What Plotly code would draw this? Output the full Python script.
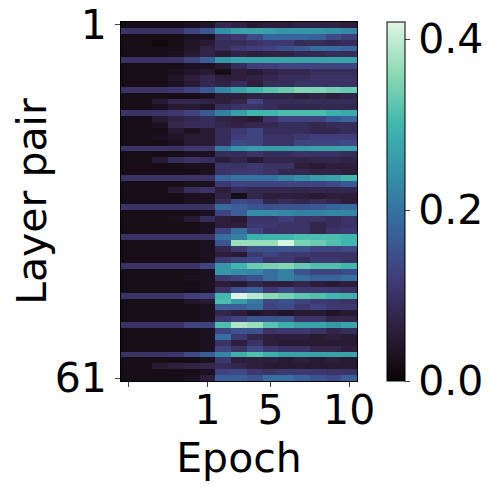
import plotly.graph_objects as go

# columns: 5 checkpoints before epoch 1, then epochs 1..10
col_index = list(range(15))
tick_pos = [0, 5, 9, 14]
tick_text = ["", "1", "5", "10"]
layer_pairs = list(range(1, 62))

values = [
    [0.02, 0.02, 0.02, 0.02, 0.03, 0.04, 0.08, 0.07, 0.05, 0.06, 0.06, 0.07, 0.07, 0.07, 0.06],
    [0.10, 0.10, 0.10, 0.10, 0.13, 0.16, 0.24, 0.27, 0.27, 0.26, 0.25, 0.25, 0.25, 0.24, 0.23],
    [0.02, 0.02, 0.02, 0.02, 0.03, 0.03, 0.10, 0.11, 0.14, 0.18, 0.18, 0.18, 0.17, 0.14, 0.12],
    [0.02, 0.02, 0.01, 0.02, 0.04, 0.05, 0.09, 0.09, 0.10, 0.11, 0.11, 0.09, 0.09, 0.08, 0.09],
    [0.02, 0.02, 0.02, 0.02, 0.04, 0.07, 0.09, 0.11, 0.12, 0.13, 0.15, 0.16, 0.19, 0.19, 0.18],
    [0.02, 0.02, 0.02, 0.03, 0.05, 0.07, 0.05, 0.07, 0.06, 0.07, 0.07, 0.08, 0.08, 0.09, 0.09],
    [0.10, 0.10, 0.10, 0.10, 0.13, 0.17, 0.25, 0.27, 0.27, 0.27, 0.27, 0.27, 0.27, 0.27, 0.27],
    [0.02, 0.02, 0.02, 0.02, 0.03, 0.03, 0.05, 0.09, 0.12, 0.12, 0.13, 0.13, 0.13, 0.13, 0.13],
    [0.02, 0.02, 0.02, 0.03, 0.04, 0.05, 0.02, 0.06, 0.05, 0.07, 0.08, 0.08, 0.09, 0.09, 0.09],
    [0.02, 0.02, 0.02, 0.04, 0.06, 0.08, 0.06, 0.06, 0.07, 0.08, 0.09, 0.09, 0.10, 0.10, 0.10],
    [0.02, 0.02, 0.02, 0.03, 0.05, 0.08, 0.07, 0.09, 0.06, 0.09, 0.09, 0.10, 0.10, 0.10, 0.10],
    [0.10, 0.10, 0.10, 0.11, 0.13, 0.16, 0.23, 0.27, 0.30, 0.32, 0.33, 0.35, 0.35, 0.34, 0.33],
    [0.02, 0.02, 0.02, 0.02, 0.02, 0.03, 0.06, 0.06, 0.07, 0.07, 0.07, 0.06, 0.07, 0.06, 0.07],
    [0.02, 0.02, 0.05, 0.08, 0.08, 0.07, 0.06, 0.075, 0.13, 0.09, 0.09, 0.09, 0.09, 0.09, 0.09],
    [0.02, 0.02, 0.03, 0.05, 0.05, 0.04, 0.09, 0.10, 0.10, 0.09, 0.08, 0.08, 0.08, 0.08, 0.08],
    [0.10, 0.10, 0.10, 0.11, 0.13, 0.16, 0.22, 0.26, 0.30, 0.30, 0.31, 0.31, 0.31, 0.29, 0.28],
    [0.02, 0.02, 0.05, 0.07, 0.08, 0.09, 0.07, 0.06, 0.05, 0.10, 0.13, 0.13, 0.13, 0.16, 0.18],
    [0.02, 0.02, 0.03, 0.08, 0.09, 0.09, 0.08, 0.07, 0.08, 0.08, 0.09, 0.09, 0.08, 0.09, 0.09],
    [0.02, 0.02, 0.02, 0.05, 0.03, 0.05, 0.09, 0.11, 0.13, 0.09, 0.09, 0.09, 0.08, 0.08, 0.09],
    [0.02, 0.02, 0.03, 0.04, 0.05, 0.05, 0.09, 0.12, 0.13, 0.10, 0.10, 0.11, 0.12, 0.12, 0.12],
    [0.02, 0.02, 0.02, 0.03, 0.05, 0.05, 0.09, 0.14, 0.13, 0.10, 0.10, 0.13, 0.13, 0.13, 0.14],
    [0.10, 0.10, 0.10, 0.10, 0.11, 0.11, 0.21, 0.25, 0.26, 0.26, 0.26, 0.26, 0.27, 0.27, 0.27],
    [0.02, 0.02, 0.02, 0.02, 0.03, 0.03, 0.09, 0.09, 0.10, 0.09, 0.09, 0.10, 0.10, 0.10, 0.09],
    [0.02, 0.02, 0.05, 0.09, 0.10, 0.09, 0.06, 0.075, 0.05, 0.075, 0.075, 0.07, 0.075, 0.075, 0.07],
    [0.02, 0.02, 0.02, 0.02, 0.03, 0.03, 0.10, 0.10, 0.11, 0.10, 0.10, 0.06, 0.05, 0.06, 0.06],
    [0.02, 0.02, 0.02, 0.02, 0.02, 0.03, 0.10, 0.11, 0.11, 0.10, 0.08, 0.08, 0.07, 0.07, 0.06],
    [0.10, 0.10, 0.10, 0.10, 0.10, 0.10, 0.18, 0.20, 0.20, 0.20, 0.22, 0.24, 0.26, 0.27, 0.30],
    [0.02, 0.02, 0.02, 0.02, 0.03, 0.03, 0.11, 0.13, 0.13, 0.13, 0.13, 0.13, 0.13, 0.14, 0.16],
    [0.02, 0.02, 0.02, 0.05, 0.09, 0.10, 0.06, 0.09, 0.08, 0.08, 0.08, 0.075, 0.08, 0.075, 0.08],
    [0.02, 0.02, 0.02, 0.02, 0.03, 0.03, 0.07, 0.02, 0.075, 0.06, 0.06, 0.06, 0.05, 0.06, 0.06],
    [0.02, 0.02, 0.02, 0.02, 0.03, 0.03, 0.09, 0.14, 0.13, 0.075, 0.09, 0.075, 0.09, 0.075, 0.06],
    [0.10, 0.10, 0.10, 0.10, 0.10, 0.10, 0.19, 0.17, 0.155, 0.15, 0.155, 0.155, 0.16, 0.175, 0.185],
    [0.02, 0.02, 0.02, 0.02, 0.02, 0.03, 0.13, 0.17, 0.235, 0.235, 0.23, 0.22, 0.22, 0.225, 0.23],
    [0.02, 0.02, 0.02, 0.03, 0.05, 0.09, 0.06, 0.05, 0.10, 0.10, 0.12, 0.10, 0.10, 0.09, 0.10],
    [0.02, 0.02, 0.02, 0.02, 0.02, 0.03, 0.06, 0.06, 0.11, 0.11, 0.10, 0.10, 0.075, 0.09, 0.10],
    [0.02, 0.02, 0.02, 0.02, 0.02, 0.03, 0.13, 0.195, 0.13, 0.10, 0.10, 0.10, 0.075, 0.10, 0.11],
    [0.10, 0.10, 0.10, 0.10, 0.10, 0.10, 0.195, 0.22, 0.29, 0.30, 0.30, 0.31, 0.31, 0.31, 0.30],
    [0.02, 0.02, 0.02, 0.02, 0.02, 0.03, 0.155, 0.37, 0.37, 0.37, 0.415, 0.345, 0.335, 0.315, 0.30],
    [0.02, 0.02, 0.02, 0.02, 0.02, 0.03, 0.075, 0.11, 0.15, 0.15, 0.155, 0.15, 0.13, 0.13, 0.14],
    [0.02, 0.02, 0.02, 0.02, 0.02, 0.03, 0.06, 0.05, 0.11, 0.13, 0.11, 0.11, 0.10, 0.10, 0.10],
    [0.02, 0.02, 0.02, 0.02, 0.02, 0.03, 0.11, 0.13, 0.14, 0.10, 0.11, 0.09, 0.11, 0.11, 0.10],
    [0.10, 0.10, 0.10, 0.10, 0.10, 0.13, 0.25, 0.30, 0.335, 0.345, 0.355, 0.33, 0.315, 0.315, 0.30],
    [0.02, 0.02, 0.02, 0.02, 0.02, 0.03, 0.25, 0.235, 0.225, 0.195, 0.22, 0.155, 0.13, 0.13, 0.14],
    [0.02, 0.02, 0.02, 0.02, 0.03, 0.03, 0.11, 0.13, 0.155, 0.195, 0.22, 0.195, 0.175, 0.175, 0.195],
    [0.02, 0.02, 0.02, 0.02, 0.02, 0.03, 0.06, 0.05, 0.075, 0.06, 0.06, 0.075, 0.06, 0.05, 0.06],
    [0.02, 0.02, 0.02, 0.02, 0.02, 0.03, 0.10, 0.155, 0.17, 0.11, 0.14, 0.11, 0.11, 0.11, 0.10],
    [0.10, 0.10, 0.10, 0.10, 0.12, 0.13, 0.30, 0.42, 0.39, 0.36, 0.345, 0.325, 0.315, 0.30, 0.29],
    [0.02, 0.02, 0.02, 0.02, 0.04, 0.05, 0.31, 0.26, 0.21, 0.14, 0.15, 0.13, 0.11, 0.11, 0.10],
    [0.02, 0.02, 0.02, 0.02, 0.02, 0.03, 0.17, 0.17, 0.195, 0.13, 0.14, 0.11, 0.13, 0.11, 0.11],
    [0.02, 0.02, 0.02, 0.02, 0.02, 0.03, 0.075, 0.06, 0.04, 0.05, 0.04, 0.05, 0.05, 0.04, 0.05],
    [0.02, 0.02, 0.02, 0.02, 0.02, 0.03, 0.11, 0.13, 0.155, 0.155, 0.155, 0.10, 0.10, 0.075, 0.075],
    [0.10, 0.10, 0.10, 0.10, 0.13, 0.13, 0.31, 0.385, 0.37, 0.32, 0.29, 0.27, 0.27, 0.25, 0.27],
    [0.02, 0.02, 0.02, 0.02, 0.02, 0.03, 0.13, 0.155, 0.15, 0.10, 0.11, 0.11, 0.10, 0.075, 0.09],
    [0.02, 0.02, 0.02, 0.02, 0.02, 0.03, 0.195, 0.11, 0.075, 0.06, 0.06, 0.06, 0.05, 0.06, 0.05],
    [0.02, 0.02, 0.02, 0.02, 0.02, 0.03, 0.10, 0.06, 0.10, 0.06, 0.05, 0.05, 0.05, 0.05, 0.05],
    [0.02, 0.02, 0.02, 0.02, 0.02, 0.03, 0.13, 0.10, 0.14, 0.11, 0.10, 0.10, 0.075, 0.075, 0.06],
    [0.10, 0.10, 0.10, 0.11, 0.14, 0.17, 0.23, 0.29, 0.315, 0.29, 0.27, 0.27, 0.27, 0.27, 0.27],
    [0.02, 0.02, 0.02, 0.02, 0.02, 0.03, 0.11, 0.06, 0.06, 0.06, 0.05, 0.06, 0.05, 0.06, 0.05],
    [0.02, 0.02, 0.05, 0.06, 0.07, 0.075, 0.09, 0.075, 0.06, 0.05, 0.05, 0.05, 0.05, 0.05, 0.05],
    [0.02, 0.02, 0.02, 0.02, 0.02, 0.03, 0.13, 0.14, 0.11, 0.10, 0.11, 0.11, 0.11, 0.10, 0.10],
    [0.02, 0.02, 0.02, 0.02, 0.03, 0.06, 0.17, 0.17, 0.155, 0.195, 0.195, 0.175, 0.155, 0.14, 0.17],
]

# approximation of seaborn "mako"
mako = [
    [0.0, "#0b0405"], [0.143, "#2e1e3b"], [0.286, "#413d7b"], [0.429, "#37659e"],
    [0.571, "#348fa7"], [0.714, "#40b7ad"], [0.857, "#8bdab2"], [1.0, "#def5e5"],
]

font = dict(family="DejaVu Sans", size=41, color="black")

fig = go.Figure(go.Heatmap(
    z=values, x=col_index, y=layer_pairs,
    colorscale=mako, zmin=0, zmax=0.42,
    colorbar=dict(
        x=1.127, xanchor="left", y=0.5, yanchor="middle", len=1.0,
        thickness=18, xpad=0, ypad=0, outlinewidth=1, outlinecolor="black",
        tickvals=[0, 0.2, 0.4], tickformat=".1f", ticks="outside", ticklen=5,
        tickfont=font, ticklabeloverflow="allow",
    ),
))

# page body adds an 8px offset, so the figure is 8px smaller than the window
fig.update_layout(
    width=482, height=483,
    margin=dict(l=113, r=133, t=14, b=110, autoexpand=False),
    paper_bgcolor="white", plot_bgcolor="white",
    font=font,
)
fig.update_xaxes(
    range=[-0.5, 14.5], tickvals=tick_pos, ticktext=tick_text,
    ticks="outside", ticklen=5, ticklabelstandoff=-12, ticklabeloverflow="allow",
    showline=True, mirror=True, linecolor="black",
    showgrid=False, zeroline=False, automargin=False,
    title=dict(text="Epoch", font=font, standoff=2),
)
fig.update_yaxes(
    range=[61.5, 0.5], tickvals=[1, 61], ticks="outside", ticklen=5,
    ticklabeloverflow="allow",
    showline=True, mirror=True, linecolor="black",
    showgrid=False, zeroline=False, automargin=True,
    title=dict(text="Layer pair", font=font, standoff=10),
)

fig.write_html("out.html")
